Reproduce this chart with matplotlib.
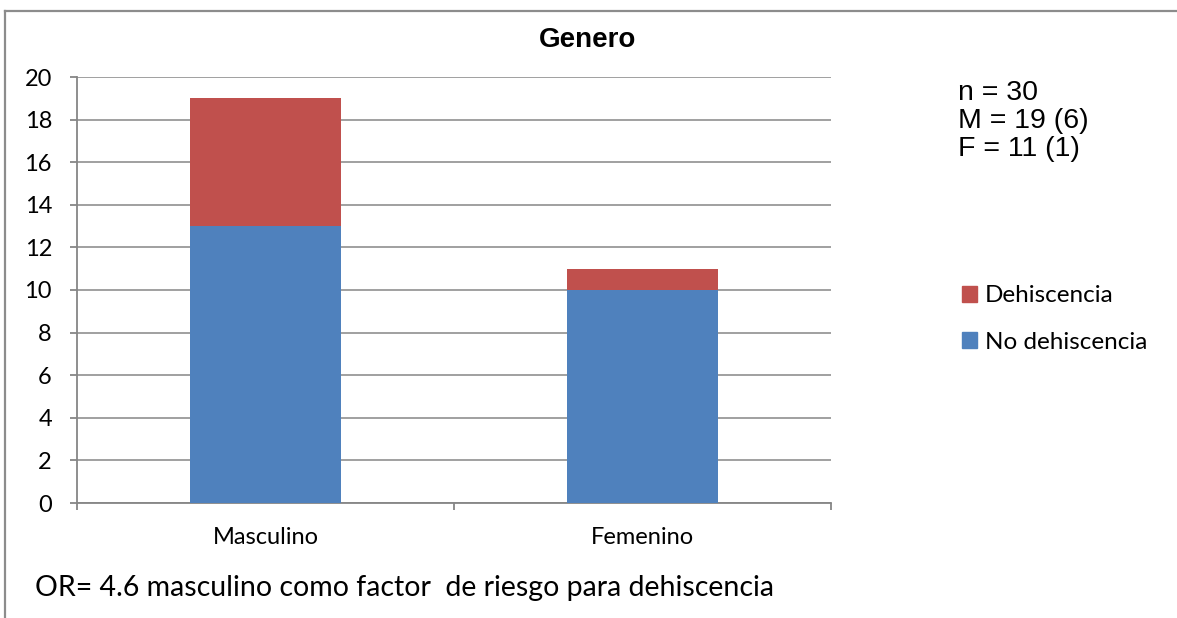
import matplotlib
matplotlib.use("Agg")
import matplotlib.pyplot as plt
from matplotlib.lines import Line2D
from matplotlib.patches import Patch

# ----------------------------------------------------------------------
# Data
# ----------------------------------------------------------------------
categories = ["Masculino", "Femenino"]
no_dehiscencia = [13, 10]
dehiscencia = [6, 1]
y_ticks = [0, 2, 4, 6, 8, 10, 12, 14, 16, 18, 20]

blue = "#4F81BD"
red = "#C0504D"
grid_gray = "#868686"
border_gray = "#8C8C8C"

W, H = 1177, 618
fig = plt.figure(figsize=(W / 100, H / 100), dpi=100)

# outer chart frame (top and left edges only)
fig.add_artist(Line2D([5 / W, 1.0], [1 - 11 / H, 1 - 11 / H], color=border_gray,
                      lw=1.6, transform=fig.transFigure))
fig.add_artist(Line2D([5 / W, 5 / W], [1 - 11 / H, 0.0], color=border_gray,
                      lw=1.6, transform=fig.transFigure))

# plot area
left, right, top, bottom = 77, 831, 77, 503
ax = fig.add_axes([left / W, 1 - bottom / H, (right - left) / W, (bottom - top) / H])

x = list(range(len(categories)))
ax.bar(x, no_dehiscencia, width=0.4, color=blue, zorder=3)
ax.bar(x, dehiscencia, width=0.4, bottom=no_dehiscencia, color=red, zorder=3)

ax.set_xlim(-0.5, 1.5)
ax.set_ylim(0, 20)
ax.set_yticks(y_ticks)
ax.set_yticklabels([str(t) for t in y_ticks], fontfamily="Lato", fontsize=17)

# category labels sit between boundary ticks
ax.set_xticks([-0.5, 0.5, 1.5])
ax.set_xticklabels([])
ax.set_xticks(x, minor=True)
ax.set_xticklabels(categories, minor=True, fontfamily="Lato", fontsize=17)
ax.tick_params(axis="x", which="minor", length=0, pad=17)
ax.tick_params(axis="x", which="major", length=5, width=1.3, color=grid_gray)
ax.tick_params(axis="y", length=5, width=1.3, color=grid_gray, pad=13)

ax.grid(axis="y", color=grid_gray, lw=1.1, zorder=0)
for side in ["top", "right"]:
    ax.spines[side].set_visible(False)
for side in ["left", "bottom"]:
    ax.spines[side].set_color(grid_gray)
    ax.spines[side].set_linewidth(1.3)

fig.text(588 / W, 1 - 40 / H, "Genero", ha="center", va="center",
         fontfamily="Liberation Sans", fontweight="bold", fontsize=20)

fig.text(958 / W, 1 - 121 / H, "n = 30\nM = 19 (6)\nF = 11 (1)", ha="left",
         va="center", fontfamily="Liberation Sans", fontsize=20.5, linespacing=1.12)

handles = [Patch(color=red, label="Dehiscencia"),
           Patch(color=blue, label="No dehiscencia")]
fig.legend(handles=handles, loc="center left", bbox_to_anchor=(950 / W, 1 - 319 / H),
           frameon=False, handlelength=0.62, handleheight=0.62, handletextpad=0.3,
           labelspacing=1.05, borderpad=0, prop={"family": "Lato", "size": 17.5})

fig.text(35 / W, 1 - 588 / H, "OR= 4.6 masculino como factor  de riesgo para dehiscencia",
         ha="left", va="center", fontfamily="Lato", fontsize=20.5)

fig.savefig("out.png", dpi=100)
